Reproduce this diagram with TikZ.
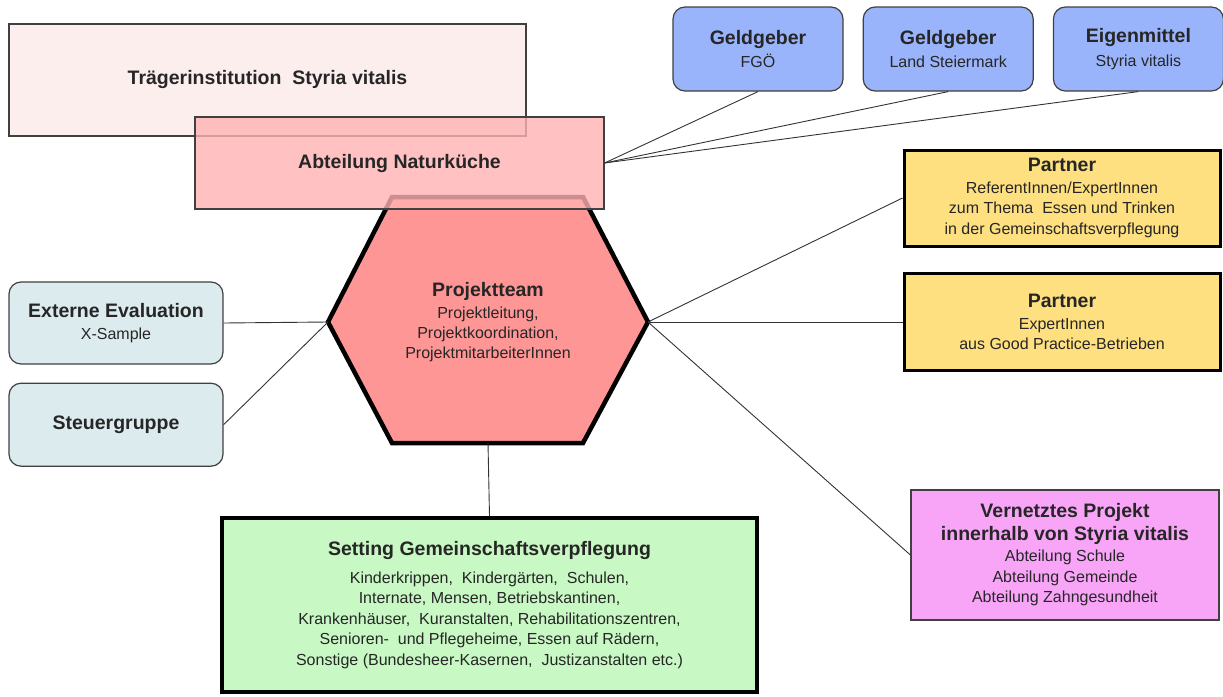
\documentclass[tikz,border=0pt]{standalone}
\usepackage{fontspec}
\setmainfont{Liberation Sans}
\usetikzlibrary{positioning}

\definecolor{traegerfill}{RGB}{253,238,238}
\definecolor{abtfill}{RGB}{255,178,178}
\definecolor{teamfill}{RGB}{255,150,150}
\definecolor{geldfill}{RGB}{153,180,250}
\definecolor{sidefill}{RGB}{220,235,238}
\definecolor{partnerfill}{RGB}{255,224,128}
\definecolor{settingfill}{RGB}{200,248,195}
\definecolor{netzfill}{RGB}{248,165,248}

\newcommand{\boxtitle}[1]{{\fontsize{19.5}{20.5}\selectfont\bfseries #1}}

\begin{document}
\begin{tikzpicture}[x=1pt, y=-1pt,
  box/.style={draw=black!75, line width=1.2pt, align=center, inner sep=0pt,
              text=black!85, font=\fontsize{16}{20.5}\selectfont},
  roundbox/.style={box, rounded corners=12pt},
  heavybox/.style={box, draw=black, line width=3pt},
  link/.style={draw=black!80, line width=0.9pt}]

\useasboundingbox (0,0) rectangle (1223,696);

%Nodes
\node[box, fill=traegerfill, minimum width=517pt, minimum height=112pt] (traeger) at (267.5,80) {\boxtitle{Trägerinstitution\ \ Styria vitalis}};

%hexagon
\coordinate (hexW) at (328,322);
\coordinate (hexE) at (648,322);
\coordinate (hexS) at (488,443);
\draw[draw=black, line width=4.5pt, line join=miter, fill=teamfill]
  (392,197) -- (583,197) -- (hexE) -- (583,443) -- (392,443) -- (hexW) -- cycle;
\node[align=center, text=black!85, font=\fontsize{16}{20}\selectfont] (team) at (488,322)
  {\boxtitle{Projektteam}\\[2pt]Projektleitung,\\Projektkoordination,\\ProjektmitarbeiterInnen};

\node[box, fill=abtfill, fill opacity=0.8, text opacity=1, minimum width=409pt, minimum height=92pt] (abt) at (399.5,163) {\boxtitle{Abteilung Naturküche}};

\node[roundbox, fill=geldfill, minimum width=170pt, minimum height=84pt] (fgoe) at (758,49) {\boxtitle{Geldgeber}\\[3pt]FGÖ};
\node[roundbox, fill=geldfill, minimum width=170pt, minimum height=84pt] (land) [right=19pt of fgoe] {\boxtitle{Geldgeber}\\[3pt]Land Steiermark};
\node[roundbox, fill=geldfill, minimum width=170pt, minimum height=84pt] (eigen) [right=19pt of land] {\boxtitle{Eigenmittel}\\[3pt]Styria vitalis};

\node[roundbox, fill=sidefill, minimum width=214pt, minimum height=82pt] (extern) at (116,323) {\boxtitle{Externe Evaluation}\\[1pt]X-Sample};
\node[roundbox, fill=sidefill, minimum width=214pt, minimum height=83pt] (steuer) [below=18pt of extern] {\boxtitle{Steuergruppe}};

\node[heavybox, fill=partnerfill, minimum width=316pt, minimum height=96pt] (partner1) at (1062,198)
  {\boxtitle{Partner}\\[1pt]ReferentInnen/ExpertInnen\\zum Thema\ \ Essen und Trinken\\in der Gemeinschaftsverpflegung};
\node[heavybox, fill=partnerfill, minimum width=316pt, minimum height=97pt] (partner2) at (1062,322)
  {\boxtitle{Partner}\\[1pt]ExpertInnen\\aus Good Practice-Betrieben};

\node[box, fill=netzfill, minimum width=308pt, minimum height=130pt] (netz) at (1065,555)
  {\boxtitle{Vernetztes Projekt}\\[2pt]\boxtitle{innerhalb von Styria vitalis}\\[1pt]Abteilung Schule\\Abteilung Gemeinde\\Abteilung Zahngesundheit};

\node[box, draw=black, line width=4pt, fill=settingfill, minimum width=535pt, minimum height=174pt] (setting) at (489.5,605)
  {\boxtitle{Setting Gemeinschaftsverpflegung}\\[7pt]Kinderkrippen,\ \ Kindergärten,\ \ Schulen,\\Internate,\ Mensen,\ Betriebskantinen,\\Krankenhäuser,\ \ Kuranstalten,\ Rehabilitationszentren,\\Senioren-\ \ und Pflegeheime,\ Essen auf Rädern,\\Sonstige (Bundesheer-Kasernen,\ \ Justizanstalten etc.)};

%line
\draw[link] (fgoe.south) -- (abt.east);
\draw[link] (land.south) -- (abt.east);
\draw[link] (eigen.south) -- (abt.east);

\draw[link] (extern.east) -- (hexW);
\draw[link] (steuer.east) -- (hexW);

\draw[link] (hexE) -- (partner1.west);
\draw[link] (hexE) -- (partner2.west);
\draw[link] (hexE) -- (netz.west);

\draw[link] (hexS) -- (setting.north);

\end{tikzpicture}
\end{document}
